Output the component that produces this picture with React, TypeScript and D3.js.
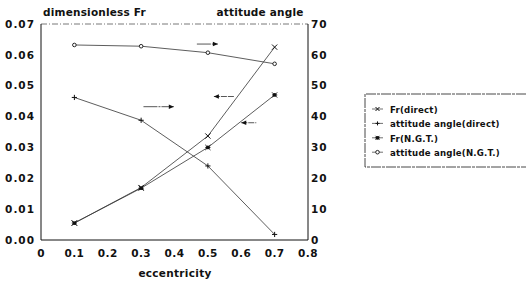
import React from 'react';
import * as d3 from 'd3';

// eccentricity values
const ecc = [0.1, 0.3, 0.5, 0.7];
// dimensionless Fr (left axis)
const frDirect = [0.0055, 0.017, 0.0337, 0.0625];
const frNgt = [0.0055, 0.0168, 0.030, 0.047];
// attitude angle (right axis)
const angleDirect = [46.2, 38.8, 24.0, 1.8];
const angleNgt = [63.2, 62.8, 60.7, 57.1];

const xTicks = [0, 0.1, 0.2, 0.3, 0.4, 0.5, 0.6, 0.7, 0.8];
const frTicks = [0, 0.01, 0.02, 0.03, 0.04, 0.05, 0.06, 0.07];
const angleTicks = [0, 10, 20, 30, 40, 50, 60, 70];

const legendLabels = ['Fr(direct)', 'attitude angle(direct)', 'Fr(N.G.T.)', 'attitude angle(N.G.T.)'];

// arrows pointing to the axis a curve belongs to: [x0, x1, fr level, direction]
const arrows: [number, number, number, 'left' | 'right'][] = [
  [0.467, 0.53, 0.0635, 'right'],
  [0.307, 0.398, 0.0432, 'right'],
  [0.518, 0.578, 0.0465, 'left'],
  [0.6, 0.645, 0.038, 'left'],
];

const W = 526, H = 282;
const FONT = '"DejaVu Sans", Arial, sans-serif';

type Kind = 'x' | 'plus' | 'star' | 'circle';

const Marker: React.FC<{ kind: Kind; cx: number; cy: number; s?: number }> = ({ kind, cx, cy, s = 2.6 }) => {
  if (kind === 'x') {
    return <path d={`M${cx - s},${cy - s}L${cx + s},${cy + s}M${cx - s},${cy + s}L${cx + s},${cy - s}`} stroke="#111" strokeWidth={1} />;
  }
  if (kind === 'plus') {
    return <path d={`M${cx - s},${cy}L${cx + s},${cy}M${cx},${cy - s}L${cx},${cy + s}`} stroke="#111" strokeWidth={1} />;
  }
  if (kind === 'star') {
    return (
      <g>
        <path d={`M${cx - s},${cy - s}L${cx + s},${cy + s}M${cx - s},${cy + s}L${cx + s},${cy - s}M${cx - s},${cy}L${cx + s},${cy}`} stroke="#111" strokeWidth={0.9} />
        <circle cx={cx} cy={cy} r={1.9} fill="#111" />
      </g>
    );
  }
  return <circle cx={cx} cy={cy} r={1.8} fill="#fff" stroke="#111" strokeWidth={0.9} />;
};

const App: React.FC = () => {
  const x = d3.scaleLinear().domain([0, 0.8]).range([41, 308]);
  const yFr = d3.scaleLinear().domain([0, 0.07]).range([240, 24]);
  const yAng = d3.scaleLinear().domain([0, 70]).range([240, 24]);

  const line = d3.line<[number, number]>().x(d => d[0]).y(d => d[1]);

  const series: { pts: [number, number][]; kind: Kind }[] = [
    { pts: ecc.map((e, i) => [x(e), yFr(frDirect[i])]), kind: 'x' },
    { pts: ecc.map((e, i) => [x(e), yAng(angleDirect[i])]), kind: 'plus' },
    { pts: ecc.map((e, i) => [x(e), yFr(frNgt[i])]), kind: 'star' },
    { pts: ecc.map((e, i) => [x(e), yAng(angleNgt[i])]), kind: 'circle' },
  ];

  const lgX = 365, lgY = 94;

  return (
    <svg width={W} height={H} style={{ position: 'absolute', left: 0, top: 0, background: '#fff' }} fontFamily={FONT}>
      <rect width={W} height={H} fill="#fff" />

      {/* titles */}
      <text x={43} y={16} fontSize={10.5} fontWeight="bold" fill="#111" letterSpacing={0.2}>dimensionless Fr</text>
      <text x={260} y={16} fontSize={10.5} fontWeight="bold" fill="#111" textAnchor="middle" letterSpacing={0.2}>attitude angle</text>

      {/* frame */}
      <line x1={x(0)} x2={x(0.8)} y1={yFr(0.07)} y2={yFr(0.07)} stroke="#555" strokeWidth={0.8} strokeDasharray="6 2 1 2" />
      <line x1={x(0)} x2={x(0)} y1={yFr(0.07)} y2={yFr(0)} stroke="#111" strokeWidth={1} />
      <line x1={x(0.8)} x2={x(0.8)} y1={yFr(0.07)} y2={yFr(0)} stroke="#111" strokeWidth={1} />
      <line x1={x(0)} x2={x(0.8)} y1={yFr(0)} y2={yFr(0)} stroke="#111" strokeWidth={1} />

      {/* left ticks */}
      {frTicks.map(t => (
        <text key={t} x={35} y={yFr(t)} dy="0.35em" fontSize={10.5} fontWeight="bold" textAnchor="end" letterSpacing={1} fill="#111">
          {t.toFixed(2)}
        </text>
      ))}
      {/* right ticks */}
      {angleTicks.map(t => (
        <text key={t} x={311} y={yAng(t)} dy="0.35em" fontSize={10.5} fontWeight="bold" letterSpacing={1} fill="#111">
          {t}
        </text>
      ))}
      {/* bottom ticks */}
      {xTicks.map(t => (
        <text key={t} x={x(t)} y={257} fontSize={10.5} fontWeight="bold" textAnchor="middle" letterSpacing={0.4} fill="#111">
          {t === 0 ? '0' : t.toFixed(1)}
        </text>
      ))}
      <text x={175} y={277} fontSize={10.5} fontWeight="bold" textAnchor="middle" letterSpacing={0.3} fill="#111">eccentricity</text>

      {/* series */}
      {series.map((s, i) => (
        <g key={i}>
          <path d={line(s.pts) || ''} fill="none" stroke="#333" strokeWidth={0.8} />
          {s.pts.map((p, j) => <Marker key={j} kind={s.kind} cx={p[0]} cy={p[1]} />)}
        </g>
      ))}

      {/* arrows */}
      {arrows.map(([a, b, lvl, dir], i) => {
        const x0 = x(a), x1 = x(b), yy = yFr(lvl);
        const hx = dir === 'right' ? x1 : x0;
        const sgn = dir === 'right' ? -1 : 1;
        return (
          <g key={i}>
            <line x1={x0} x2={x1} y1={yy} y2={yy} stroke="#444" strokeWidth={0.9} strokeDasharray={dir === 'right' ? '14 1 2 1' : '6 1'} />
            <path d={`M${hx},${yy}L${hx + sgn * 5},${yy - 2.3}L${hx + sgn * 5},${yy + 2.3}Z`} fill="#111" />
          </g>
        );
      })}

      {/* legend */}
      <path d={`M${W},${lgY}H${lgX}V${lgY + 73}H${W}`} fill="none" stroke="#333" strokeWidth={0.9} strokeDasharray="10 1 3 1" />
      {legendLabels.map((lab, i) => {
        const yy = lgY + 16 + i * 14.4;
        const kinds: Kind[] = ['x', 'plus', 'star', 'circle'];
        return (
          <g key={lab}>
            <line x1={372} x2={383} y1={yy - 1} y2={yy - 1} stroke="#333" strokeWidth={0.7} />
            <Marker kind={kinds[i]} cx={377.5} cy={yy - 1} s={2} />
            <text x={390} y={yy} dy="0.35em" fontSize={8.6} fontWeight="bold" letterSpacing={0.2} fill="#111">{lab}</text>
          </g>
        );
      })}
    </svg>
  );
};

export default App;
